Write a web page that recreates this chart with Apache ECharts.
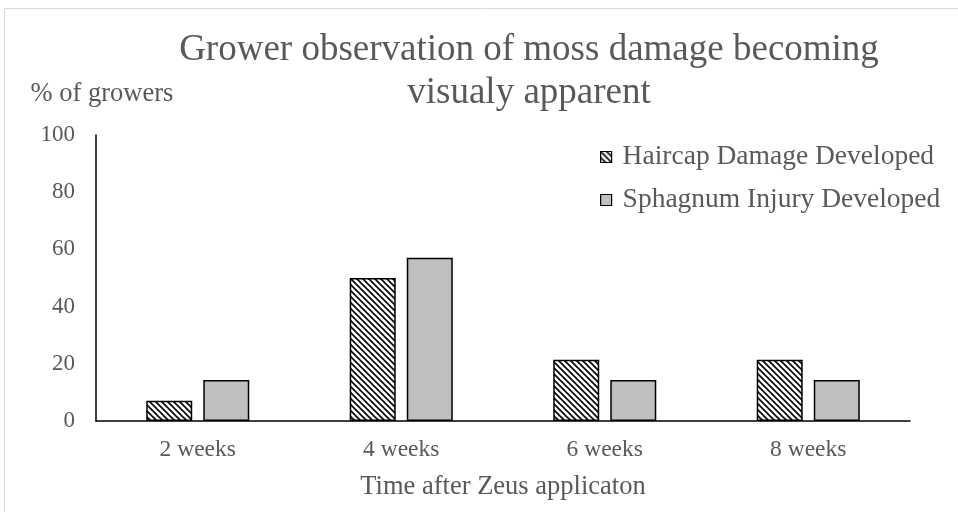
<!DOCTYPE html>
<html><head><meta charset="utf-8">
<script src="https://cdn.jsdelivr.net/npm/echarts@6/dist/echarts.min.js"></script>
<style>html,body{margin:0;padding:0;background:#fff}#c{width:958px;height:512px}</style>
</head><body><div id="c"></div>
<script>
const categories = ['2 weeks', '4 weeks', '6 weeks', '8 weeks'];
const haircap = [7.1, 50.0, 21.4, 21.4];
const sphagnum = [14.3, 57.1, 14.3, 14.3];
const yTicks = [0, 20, 40, 60, 80, 100];

function hatch() {
  const s = 6;
  const c = document.createElement('canvas');
  c.width = s; c.height = s;
  const g = c.getContext('2d');
  g.fillStyle = '#fff'; g.fillRect(0, 0, s, s);
  g.strokeStyle = '#000'; g.lineWidth = 1.6;
  g.beginPath();
  g.moveTo(-1, -1); g.lineTo(s + 1, s + 1);
  g.moveTo(-1, s - 1); g.lineTo(1, s + 1);
  g.moveTo(s - 1, -1); g.lineTo(s + 1, 1);
  g.stroke();
  return c;
}
const font = '"Liberation Serif", "Times New Roman", serif';
const chart = echarts.init(document.getElementById('c'));
chart.setOption({
  animation: false,
  textStyle: { fontFamily: font },
  title: {
    text: 'Grower observation of moss damage becoming\nvisualy apparent',
    left: 524, textAlign: 'center', top: 24,
    textStyle: { fontFamily: font, fontSize: 37, fontWeight: 'normal', color: '#595959', lineHeight: 43 }
  },
  graphic: [{
    type: 'rect', shape: { x: 4.5, y: 8.5, width: 1000, height: 600 },
    style: { fill: 'none', stroke: '#d9d9d9', lineWidth: 1 }, silent: true
  }],
  legend: {
    orient: 'vertical', left: 600, top: 143, itemGap: 15, padding: 0,
    icon: 'rect', itemWidth: 11, itemHeight: 11,
    itemStyle: { borderColor: '#000', borderWidth: 1.2 },
    textStyle: { fontFamily: font, fontSize: 27.5, color: '#595959', padding: [0, 0, 0, 6] },
    data: ['Haircap Damage Developed', 'Sphagnum Injury Developed']
  },
  grid: { left: 96, right: 48, top: 135, bottom: 91 },
  xAxis: {
    type: 'category', data: categories,
    name: 'Time after Zeus applicaton', nameLocation: 'middle', nameGap: 53,
    nameTextStyle: { fontFamily: font, fontSize: 26.5, color: '#595959' },
    axisLine: { lineStyle: { color: '#000', width: 1.5 } },
    axisTick: { show: false },
    axisLabel: { fontFamily: font, fontSize: 23.5, color: '#595959', margin: 17 }
  },
  yAxis: {
    type: 'value', min: yTicks[0], max: yTicks[yTicks.length - 1], interval: 20,
    name: '% of growers', nameGap: 27,
    nameTextStyle: { fontFamily: font, fontSize: 26.5, color: '#595959', padding: [0, 0, 0, 12] },
    axisLine: { show: true, lineStyle: { color: '#000', width: 1.5 } },
    axisTick: { show: false },
    splitLine: { show: false },
    axisLabel: { fontFamily: font, fontSize: 23, color: '#595959', margin: 21 }
  },
  series: [
    {
      name: 'Haircap Damage Developed', type: 'bar', data: haircap,
      barWidth: 46, barGap: '24%',
      itemStyle: { color: { image: hatch(), repeat: 'repeat' }, borderColor: '#000', borderWidth: 1.5 }
    },
    {
      name: 'Sphagnum Injury Developed', type: 'bar', data: sphagnum,
      barWidth: 46,
      itemStyle: { color: '#bfbfbf', borderColor: '#000', borderWidth: 1.5 }
    }
  ]
});
</script></body></html>
